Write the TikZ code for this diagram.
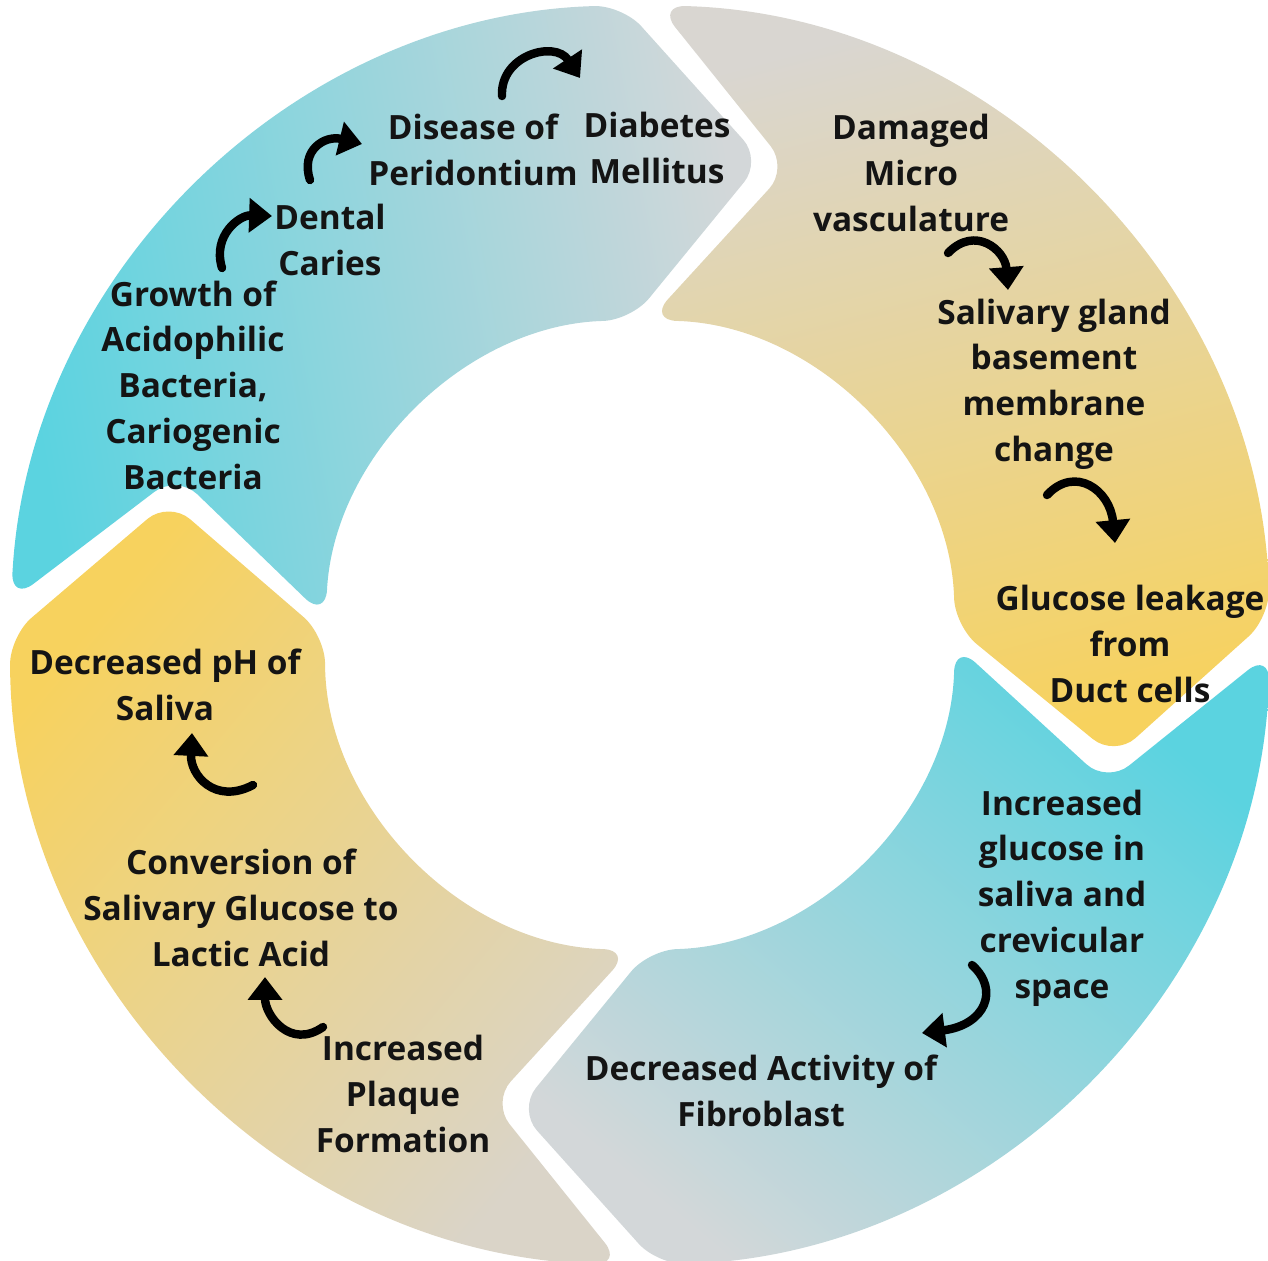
\documentclass[tikz,border=0pt]{standalone}
\usepackage{fontspec}
\setmainfont{Open Sans}
\usepackage{tikz}
\usetikzlibrary{arrows.meta}
\definecolor{ringcyan}{HTML}{5BD3E0}
\definecolor{ringgrey}{HTML}{D3D7D9}
\definecolor{ringstone}{HTML}{D9D6D1}
\definecolor{ringyellow}{HTML}{F7D25E}
\definecolor{ringtan}{HTML}{DAD4C8}
\tikzset{
    ring-part/.style = {rounded corners=8pt},
    ring-text/.style = {align=center, inner sep=0pt, text=black!92, font=\bfseries\fontsize{9.5}{13}\selectfont},
    flow-arrow/.style = {line width=2.4pt, line cap=round, -{Triangle[length=6.5pt,width=9.5pt]}},
}

\begin{document}
\begin{tikzpicture}[x=0.01cm,y=-0.01cm]
\useasboundingbox (0,0) rectangle (1268,1260);
% four chevron parts of the ring
\begin{scope}[shift={(640,635)}]
\foreach \s/\e/\ca/\cb/\ang in {181.5/270/ringcyan/ringgrey/100, 270/360/ringstone/ringyellow/15, 0/90/ringcyan/ringgrey/-40, 90/181.5/ringyellow/ringtan/50}{
    \pgfmathsetmacro{\a}{\s+1.6}
    \pgfmathsetmacro{\b}{\e-1.6}
    \shade[ring-part, top color=\ca, bottom color=\cb, shading angle=\ang]
        (\a:630) arc[start angle=\a, end angle=\b, radius=630]
        -- (\b+16:490) -- (\b:315)
        arc[start angle=\b, end angle=\a, radius=315]
        -- (\a+16:490) -- cycle;
}
\end{scope}

\node[ring-text] (diabetes) at (657,148) {Diabetes\\Mellitus};
\node[ring-text] (disease) at (473,150) {Disease of\\Peridontium};
\node[ring-text] (dental) at (330,240) {Dental\\Caries};
\node[ring-text] (growth) at (193,385) {Growth of\\Acidophilic\\Bacteria,\\Cariogenic\\Bacteria};
\node[ring-text] (damaged) at (911,173) {Damaged\\Micro\\vasculature};
\node[ring-text] (salivary) at (1054,384) {Salivary gland\\basement\\membrane\\change};
\node[ring-text] (glucose) at (1130,644) {Glucose leakage\\from\\Duct cells};
\node[ring-text] (increased) at (1062,898) {Increased\\glucose in\\saliva and\\crevicular\\space};
\node[ring-text] (fibro) at (761,1091) {Decreased Activity of\\Fibroblast};
\node[ring-text] (plaque) at (403,1094) {Increased\\Plaque\\Formation};
\node[ring-text] (conversion) at (241,908) {Conversion of\\Salivary Glucose to\\Lactic Acid};
\node[ring-text] (phsaliva) at (165,685) {Decreased pH of\\Saliva};

% curved arrows between the steps
\draw[flow-arrow] ([shift={(29,-117)}]growth.center) .. controls +(-10,-33) and +(-32,-1) .. ([shift={(-58,-24)}]dental.center);
\draw[flow-arrow] ([shift={(-20,-60)}]dental.center) .. controls +(-10,-30) and +(-37,-9) .. ([shift={(-111,-6)}]disease.center);
\draw[flow-arrow] ([shift={(29,-54)}]disease.center) .. controls +(-2,-41) and +(-25,-38) .. ([shift={(-77,-70)}]diabetes.center);
\draw[flow-arrow] ([shift={(37,80)}]damaged.center) .. controls +(27,-28) and +(-3,-40) .. ([shift={(-46,-94)}]salivary.center);
\draw[flow-arrow] ([shift={(-7,111)}]salivary.center) .. controls +(28,-30) and +(-5,-53) .. ([shift={(-15,-101)}]glucose.center);
\draw[flow-arrow] ([shift={(-90,67)}]increased.center) .. controls +(28,25) and +(63,-8) .. ([shift={(161,-58)}]fibro.center);
\draw[flow-arrow] ([shift={(-80,-67)}]plaque.center) .. controls +(-33,23) and +(0,38) .. ([shift={(24,69)}]conversion.center);
\draw[flow-arrow] ([shift={(12,-123)}]conversion.center) .. controls +(-38,20) and +(-2,42) .. ([shift={(27,48)}]phsaliva.center);
\end{tikzpicture}
\end{document}
